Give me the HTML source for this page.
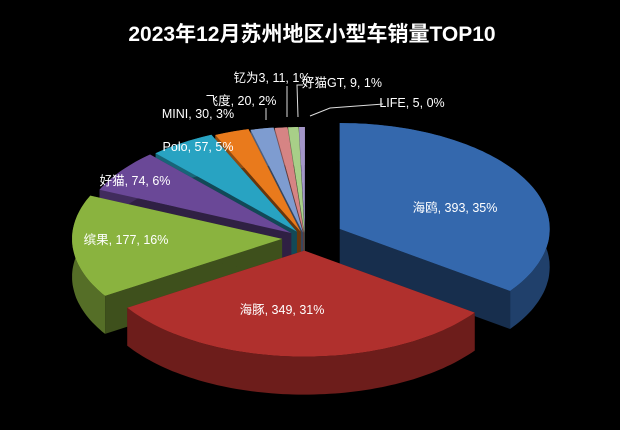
<!DOCTYPE html>
<html><head><meta charset="utf-8"><style>
html,body{margin:0;padding:0;background:#000;}
svg{display:block}
text{font-family:"Liberation Sans","Noto Sans CJK SC",sans-serif;}
</style></head><body>
<svg id="s" width="620" height="430" viewBox="0 0 620 430" xmlns="http://www.w3.org/2000/svg">
<rect width="620" height="430" fill="#000"/>
<text x="312" y="41" text-anchor="middle" fill="#fff" font-size="21" font-weight="bold">2023年12月苏州地区小型车销量TOP10</text>
<g id="pie"></g>
<g fill="#fff" font-size="12.5">
<text x="455" y="212" text-anchor="middle">海鸥, 393, 35%</text>
<text x="282" y="314" text-anchor="middle">海豚, 349, 31%</text>
<text x="126" y="244" text-anchor="middle">缤果, 177, 16%</text>
<text x="135" y="185" text-anchor="middle">好猫, 74, 6%</text>
<text x="198" y="151" text-anchor="middle">Polo, 57, 5%</text>
<text x="198" y="118" text-anchor="middle">MINI, 30, 3%</text>
<text x="241" y="105" text-anchor="middle">飞度, 20, 2%</text>
<text x="272" y="82" text-anchor="middle">钇为3, 11, 1%</text>
<text x="342" y="87" text-anchor="middle">好猫GT, 9, 1%</text>
<text x="412" y="107" text-anchor="middle">LIFE, 5, 0%</text>
</g>
<g stroke="#ddd" stroke-width="1" fill="none">
<line x1="266" y1="108" x2="266" y2="120"/>
<line x1="287" y1="86" x2="287" y2="117"/>
<polyline points="303,85 297,85 298,117"/>
<polyline points="383,104 330,108 310,116"/>
</g>
</svg>
<script>
var data=[393,349,177,74,57,30,20,11,9,5];
var cols=["#3468ad","#b0302d","#8ab33f","#6a4897","#28a3c2","#e97a1c","#7e9cd0","#d68484","#a8cf88","#a396c8"];
var expl=[39,25,23,17,15,13,11,10,10,10];
var cx=305,cy=238,rx=210,ry=106,dep=38;
var tot=data.reduce(function(a,b){return a+b},0);
function P(a,ox,oy,dz){return (ox+rx*Math.sin(a)).toFixed(1)+","+(oy-ry*Math.cos(a)+(dz||0)).toFixed(1);}
function shade(c,f){var n=parseInt(c.slice(1),16);var r=(n>>16)*f|0,g=((n>>8)&255)*f|0,b=(n&255)*f|0;return "rgb("+r+","+g+","+b+")";}
var sl=[],a=0;
for(var i=0;i<data.length;i++){var s=a,e=a+data[i]/tot*2*Math.PI;var m=(s+e)/2;
sl.push({i:i,s:s,e:e,ox:cx+expl[i]*Math.sin(m),oy:cy-expl[i]*Math.cos(m)*ry/rx,m:m});a=e;}
sl.sort(function(p,q){return (-Math.cos(p.m))-(-Math.cos(q.m));});
var out="";
sl.forEach(function(o){
 var c=cols[o.i],ox=o.ox,oy=o.oy,N=Math.max(4,Math.ceil((o.e-o.s)*40));
 var dark=shade(c,0.45);
 out+='<polygon fill="'+dark+'" points="'+ox+','+oy+' '+P(o.s,ox,oy)+' '+P(o.s,ox,oy,dep)+' '+ox+','+(oy+dep)+'"/>';
 out+='<polygon fill="'+dark+'" points="'+ox+','+oy+' '+P(o.e,ox,oy)+' '+P(o.e,ox,oy,dep)+' '+ox+','+(oy+dep)+'"/>';
 var top=[],bot=[];
 for(var k=0;k<=N;k++){var t=o.s+(o.e-o.s)*k/N;top.push(P(t,ox,oy));bot.unshift(P(t,ox,oy,dep));}
 out+='<polygon fill="'+shade(c,0.62)+'" points="'+top.join(" ")+' '+bot.join(" ")+'"/>';
 out+='<polygon fill="'+c+'" points="'+ox+','+oy+' '+top.join(" ")+'"/>';
});
document.getElementById("pie").innerHTML=out;
</script>
</body></html>
